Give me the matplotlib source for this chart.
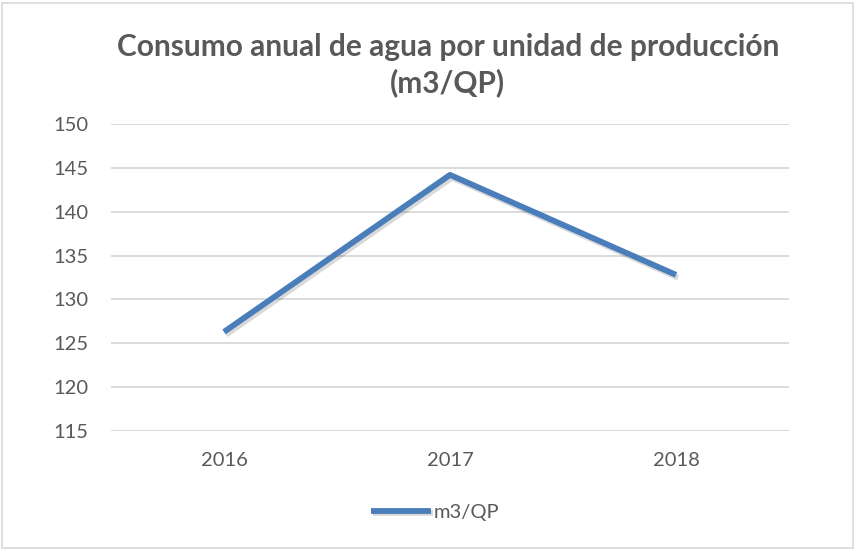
import matplotlib.pyplot as plt
import matplotlib.patheffects as pe
from matplotlib.patches import Rectangle

# datos
years = ['2016', '2017', '2018']
consumo = [126.3, 144.2, 132.8]
y_ticks = [115, 120, 125, 130, 135, 140, 145, 150]

plt.rcParams['font.family'] = ['Lato', 'DejaVu Sans']
gris = '#595959'

fig = plt.figure(figsize=(8.56, 5.49), dpi=100)
ax = fig.add_axes([111 / 856, 1 - 431 / 549, (789 - 111) / 856, (431 - 124) / 549])

x = range(len(years))
ax.plot(x, consumo, color='#4a7ebb', lw=4.2, solid_capstyle='butt', label='m3/QP',
        path_effects=[pe.SimpleLineShadow(offset=(1.5, -2), alpha=0.15, shadow_color='black'),
                      pe.Normal()])

ax.set_xlim(-0.5, len(years) - 0.5)
ax.set_ylim(115, 150)
ax.set_yticks(y_ticks)
ax.set_xticks(list(x))
ax.set_xticklabels(years)
ax.grid(axis='y', color='#d9d9d9', lw=1.3)
ax.set_axisbelow(True)
for s in ax.spines.values():
    s.set_visible(False)
ax.tick_params(length=0, labelsize=14.5, colors=gris)
ax.tick_params(axis='y', pad=16)
ax.tick_params(axis='x', pad=15)

fig.suptitle('Consumo anual de agua por unidad de producción\n(m3/QP)',
             x=0.523, y=0.94, fontsize=21.5, fontweight='bold', color=gris, linespacing=1.32)

leg = fig.legend(loc='center', bbox_to_anchor=(0.508, 0.067), frameon=False,
                 fontsize=14.5, handlelength=3.0, handletextpad=0.1)
for t in leg.get_texts():
    t.set_color(gris)

# borde del gráfico
fig.patches.append(Rectangle((0.002, 0.002), 0.994, 0.993, transform=fig.transFigure,
                             fill=False, edgecolor='#d9d9d9', lw=1.2))

fig.savefig('out.png', dpi=100)
